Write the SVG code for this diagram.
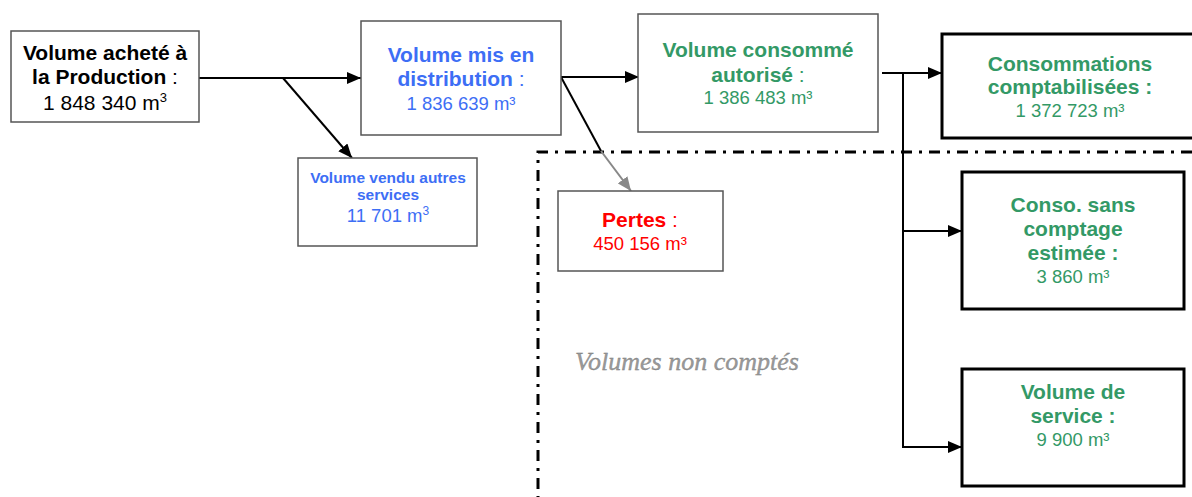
<svg xmlns="http://www.w3.org/2000/svg" width="1192" height="497" viewBox="0 0 1192 497">
<defs>
<style>
text{font-family:"Liberation Sans",Arial,sans-serif;text-anchor:middle}
.b{font-weight:bold;font-size:21px}
.n{font-size:18.5px}
.blue{fill:#3D6EF5}
.green{fill:#339966}
.red{fill:#FF0000}
.k{fill:#000}
.box{fill:#fff;stroke:#555;stroke-width:1.5}
.boxk{fill:#fff;stroke:#000;stroke-width:3}
.ln{fill:none;stroke:#000;stroke-width:2}
.dash{fill:none;stroke:#000;stroke-width:3;stroke-dasharray:11 7 3 7}
</style>
<marker id="ah" viewBox="0 0 14 12" refX="14" refY="6" markerWidth="14" markerHeight="12" markerUnits="userSpaceOnUse" orient="auto">
<path d="M0,0 L14,6 L0,12 Z" fill="#000"/>
</marker>
<marker id="ahg" viewBox="0 0 14 12" refX="14" refY="6" markerWidth="14" markerHeight="12" markerUnits="userSpaceOnUse" orient="auto">
<path d="M0,0 L14,6 L0,12 Z" fill="#888"/>
</marker>
</defs>
<rect width="1192" height="497" fill="#fff"/>

<g id="region-non-comptes">
<path class="dash" d="M1192,152 H538 V497"/>
<text x="575" y="370" style="font-family:'Liberation Serif',serif;font-style:italic;font-size:26px;text-anchor:start" fill="#9a9a9a" stroke="#777" stroke-width="0.3">Volumes non comptés</text>
</g>

<g id="connectors">
<line class="ln" x1="199" y1="78" x2="361" y2="78" marker-end="url(#ah)"/>
<line class="ln" x1="283" y1="78" x2="352" y2="158" marker-end="url(#ah)"/>
<line class="ln" x1="561" y1="77" x2="639" y2="77" marker-end="url(#ah)"/>
<line class="ln" x1="561" y1="77" x2="601" y2="151"/>
<line x1="601" y1="151" x2="631" y2="191" stroke="#888" stroke-width="2" marker-end="url(#ahg)"/>
<line class="ln" x1="882" y1="73" x2="942" y2="73" marker-end="url(#ah)"/>
<polyline class="ln" points="903,73 903,447 962,447" marker-end="url(#ah)"/>
<line class="ln" x1="903" y1="231" x2="962" y2="231" marker-end="url(#ah)"/>
</g>

<g id="node-production">
<rect class="box" x="11" y="31" width="188" height="91"/>
<text class="b k" x="105" y="60">Volume acheté à</text>
<text class="k" x="105" y="84"><tspan class="b">la Production</tspan><tspan style="font-size:21px"> :</tspan></text>
<text class="k" x="105" y="110" style="font-size:21px">1 848 340 m<tspan dy="-8" style="font-size:13px">3</tspan></text>
</g>

<g id="node-distribution">
<rect class="box" x="361" y="21" width="200" height="114"/>
<text class="b blue" x="461" y="62">Volume mis en</text>
<text class="blue" x="461" y="86"><tspan class="b">distribution</tspan><tspan style="font-size:21px"> :</tspan></text>
<text class="n blue" x="461" y="110">1 836 639 m³</text>
</g>

<g id="node-vendu">
<rect class="box" x="298" y="158" width="179" height="88"/>
<text class="blue" x="388" y="183" style="font-weight:bold;font-size:15.5px">Volume vendu autres</text>
<text class="blue" x="388" y="200" style="font-weight:bold;font-size:15.5px">services</text>
<text class="n blue" x="388" y="222">11 701 m<tspan dy="-7" style="font-size:12px">3</tspan></text>
</g>

<g id="node-consomme">
<rect class="box" x="638" y="14" width="240" height="118"/>
<text class="b green" x="758" y="57">Volume consommé</text>
<text class="green" x="758" y="82"><tspan class="b">autorisé</tspan><tspan style="font-size:21px"> :</tspan></text>
<text class="n green" x="758" y="104">1 386 483 m³</text>
</g>

<g id="node-pertes">
<rect class="box" x="558" y="191" width="165" height="80"/>
<text class="red" x="640" y="227"><tspan class="b">Pertes</tspan><tspan style="font-size:21px"> :</tspan></text>
<text class="n red" x="640" y="250">450 156 m³</text>
</g>

<g id="node-comptabilisees">
<rect class="boxk" x="942" y="34" width="256" height="104"/>
<text class="b green" x="1070" y="71">Consommations</text>
<text class="b green" x="1070" y="94">comptabilisées :</text>
<text class="n green" x="1070" y="117">1 372 723 m³</text>
</g>

<g id="node-sans-comptage">
<rect class="boxk" x="962" y="172" width="222" height="137"/>
<text class="b green" x="1073" y="212">Conso. sans</text>
<text class="b green" x="1073" y="236">comptage</text>
<text class="b green" x="1073" y="260">estimée :</text>
<text class="n green" x="1073" y="283">3 860 m³</text>
</g>

<g id="node-service">
<rect class="boxk" x="962" y="369" width="222" height="117"/>
<text class="b green" x="1073" y="399">Volume de</text>
<text class="b green" x="1073" y="423">service :</text>
<text class="n green" x="1073" y="446">9 900 m³</text>
</g>
</svg>
